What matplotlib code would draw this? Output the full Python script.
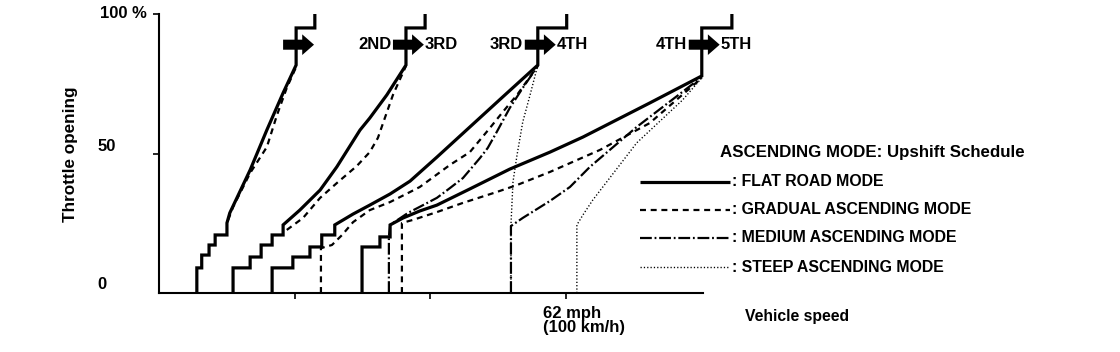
import matplotlib
matplotlib.use('Agg')
import matplotlib.pyplot as plt
from matplotlib.patches import FancyArrow
from matplotlib.lines import Line2D
import matplotlib.transforms as mtransforms

plt.rcParams['font.family'] = ['Liberation Sans', 'DejaVu Sans']
plt.rcParams['font.weight'] = 'bold'
plt.rcParams['lines.scale_dashes'] = False

# ---------------- data (speed in km/h, throttle opening in %) ----------------
# 1st -> 2nd
g1_flat_x = [9.3, 9.3, 10.5, 10.5, 12.3, 12.3, 13.8, 13.8, 16.7, 16.7, 17.4, 22.4, 26.5, 30.5, 33.7, 33.7, 38.3, 38.3]
g1_flat_y = [0, 9.0, 9.0, 13.6, 13.6, 17.2, 17.2, 20.8, 20.8, 25.1, 28.7, 44.1, 58.4, 71.7, 81.7, 95.0, 95.0, 100]
g1_grad_x = [17.0, 18.2, 22.4, 26.5, 29.0, 31.4, 33.7]
g1_grad_y = [26.2, 30.8, 43.0, 52.3, 63.8, 73.5, 81.0]

# 2nd -> 3rd
g2_flat_x = [18.2, 18.2, 22.4, 22.4, 25.1, 25.1, 27.8, 27.8, 30.5, 30.5, 34.6, 39.6, 43.7, 49.4, 51.8, 56.0, 60.7, 60.7, 65.4, 65.4]
g2_flat_y = [0, 9.0, 9.0, 12.9, 12.9, 17.2, 17.2, 20.8, 20.8, 24.4, 29.7, 36.9, 45.2, 58.4, 62.7, 71.0, 81.7, 95.0, 95.0, 100]
g2_grad_x = [31.4, 35.4, 39.6, 43.7, 48.6, 51.8, 53.8, 55.5, 57.5, 60.7]
g2_grad_y = [22.6, 26.9, 34.1, 39.4, 45.5, 50.5, 55.6, 62.7, 71.0, 81.4]

# 3rd -> 4th
g3_flat_x = [27.8, 27.8, 32.9, 32.9, 37.1, 37.1, 40.0, 40.0, 43.2, 43.2, 47.7, 51.8, 56.8, 61.7, 68.3, 76.4, 84.5, 93.1, 93.1, 100.2, 100.2]
g3_flat_y = [0, 9.0, 9.0, 12.9, 12.9, 16.5, 16.5, 20.8, 20.8, 24.4, 28.3, 31.5, 35.5, 40.1, 48.7, 59.5, 70.3, 81.7, 95.0, 95.0, 100]
g3_grad_x = [39.8, 39.8, 42.5, 45.0, 47.7, 51.8, 56.8, 61.7, 64.1, 71.5, 76.4, 81.3, 84.5, 88.0, 93.1]
g3_grad_y = [0, 16.1, 17.2, 20.8, 25.4, 29.7, 32.6, 36.2, 38.0, 45.9, 50.5, 59.1, 64.9, 71.0, 81.4]
g3_med_x = [56.5, 56.5, 56.8, 61.2, 64.9, 68.3, 71.5, 74.7, 78.9, 80.8, 83.0, 86.2, 89.4, 93.1]
g3_med_y = [0, 20.1, 24.4, 28.7, 31.5, 34.1, 37.6, 41.2, 48.4, 52.0, 57.7, 66.3, 73.5, 81.4]
g3_steep_x = [86.5, 86.5, 87.0, 88.0, 89.4, 91.2, 93.1]
g3_steep_y = [0, 24.4, 39.8, 49.5, 61.3, 71.0, 81.7]

# 4th -> 5th
g4_flat_x = [49.9, 49.9, 54.3, 54.3, 56.8, 56.8, 60.0, 64.1, 68.3, 76.4, 86.2, 96.1, 104.2, 120.6, 133.4, 133.4, 140.8, 140.8]
g4_flat_y = [0, 16.5, 16.5, 20.1, 20.1, 24.4, 26.9, 29.4, 31.5, 37.3, 44.4, 50.5, 55.9, 68.1, 77.8, 95.0, 95.0, 100]
g4_grad_x = [59.7, 59.7, 62.4, 68.3, 74.7, 83.0, 88.0, 96.1, 108.4, 120.6, 133.4]
g4_grad_y = [0, 25.1, 26.2, 29.0, 32.3, 36.2, 38.7, 43.4, 51.3, 60.9, 77.1]
g4_med_x = [86.5, 86.5, 89.4, 96.1, 101.0, 105.9, 117.4, 133.4]
g4_med_y = [0, 24.0, 26.9, 33.0, 38.0, 45.2, 59.5, 77.4]
g4_steep_x = [102.7, 102.7, 104.2, 106.6, 117.4, 128.7, 133.4]
g4_steep_y = [0, 24.4, 28.0, 33.3, 53.8, 69.2, 77.1]

shift_speeds = [33.7, 60.7, 93.1, 133.4]
gear_from = ['', '2ND', '3RD', '4TH']
gear_to = ['', '3RD', '4TH', '5TH']

x_ticks = [100 / 3, 200 / 3, 100]
y_ticks = [50, 100]
y_tick_labels = {0: '0', 50: '50', 100: '100 %'}

modes = ['flat', 'gradual', 'medium', 'steep']
mode_labels = [': FLAT ROAD MODE', ': GRADUAL ASCENDING MODE',
               ': MEDIUM ASCENDING MODE', ': STEEP ASCENDING MODE']

# ---------------- styles ----------------
STY = {
    'flat': dict(color='black', lw=2.3, ls='-', solid_joinstyle='miter', solid_capstyle='butt'),
    'gradual': dict(color='black', lw=1.6, ls=(0, (4.3, 3.4))),
    'medium': dict(color='black', lw=1.6, ls=(0, (8.5, 2.0, 1.3, 2.0))),
    'steep': dict(color='black', lw=1.0, ls=(0, (0.9, 1.5))),
}

W, H = 1120, 352
fig = plt.figure(figsize=(W / 100, H / 100), dpi=100)


def fx(px):
    return px / W


def fy(py):
    return 1 - py / H


ax = fig.add_axes([fx(159), fy(293), fx(703) - fx(159), fy(14) - fy(293)])
ax.set_xlim(0, 133.7)
ax.set_ylim(0, 100)

series = [
    ('steep', g3_steep_x, g3_steep_y), ('steep', g4_steep_x, g4_steep_y),
    ('medium', g3_med_x, g3_med_y), ('medium', g4_med_x, g4_med_y),
    ('gradual', g1_grad_x, g1_grad_y), ('gradual', g2_grad_x, g2_grad_y),
    ('gradual', g3_grad_x, g3_grad_y), ('gradual', g4_grad_x, g4_grad_y),
    ('flat', g1_flat_x, g1_flat_y), ('flat', g2_flat_x, g2_flat_y),
    ('flat', g3_flat_x, g3_flat_y), ('flat', g4_flat_x, g4_flat_y),
]
for mode, xs, ys in series:
    ax.plot(xs, ys, clip_on=False, **STY[mode])

# shift arrows with gear labels
ARROW_Y = 89
for sp, gf, gt in zip(shift_speeds, gear_from, gear_to):
    x0, x1 = sp - 3.2, sp + 4.4
    ax.add_patch(FancyArrow(x0, ARROW_Y, x1 - x0, 0, width=3.6, head_width=7.4,
                            head_length=2.9, length_includes_head=True,
                            color='black', lw=0, clip_on=False))
    if gf:
        ax.text(x0 - 0.4, ARROW_Y, gf, ha='right', va='center', fontsize=12, fontweight='bold')
    if gt:
        ax.text(x1 + 0.3, ARROW_Y, gt, ha='left', va='center', fontsize=12, fontweight='bold')

# axes styling
for s in ['top', 'right']:
    ax.spines[s].set_visible(False)
for s in ['left', 'bottom']:
    ax.spines[s].set_linewidth(1.5)
ax.set_yticks(y_ticks)
ax.set_yticklabels([''] * len(y_ticks))
ax.set_xticks(x_ticks)
ax.set_xticklabels([''] * len(x_ticks))
ax.tick_params(axis='both', length=4, width=1.2, color='black')

# y tick labels (left aligned as in the reference)
ylab_tr = mtransforms.blended_transform_factory(ax.transAxes, ax.transData)
y_label_offsets = {0: 2.9, 50: 2.5, 100: 0.0}
for val, lab in y_tick_labels.items():
    ax.text(-0.113 if val != 100 else -0.108, val + y_label_offsets[val], lab,
            transform=ylab_tr, ha='left', va='center', fontsize=12, fontweight='bold')

ax.annotate('62 mph\n(100 km/h)', xy=(100, 0), xycoords=('data', 'axes fraction'),
            xytext=(-23 * 0.72, -13 * 0.72), textcoords='offset points',
            ha='left', va='top', fontsize=12, fontweight='bold', linespacing=0.95)

fig.text(fx(745), fy(317), 'Vehicle speed', ha='left', va='center', fontsize=11.3, fontweight='bold')
fig.text(fx(70), fy(154), 'Throttle opening', ha='center', va='center', rotation=90,
         fontsize=12.3, fontweight='bold')

# legend
fig.text(fx(720), fy(152), 'ASCENDING MODE: Upshift Schedule', ha='left', va='center',
         fontsize=12.2, fontweight='bold')
leg_rows = [182, 210, 238, 267]
for mode, lab, py in zip(modes, mode_labels, leg_rows):
    fig.add_artist(Line2D([fx(640), fx(730)], [fy(py), fy(py)], transform=fig.transFigure, **STY[mode]))
    fig.text(fx(732), fy(py), lab, ha='left', va='center', fontsize=11.4, fontweight='bold')

fig.savefig('out.png', dpi=100, facecolor='white')
